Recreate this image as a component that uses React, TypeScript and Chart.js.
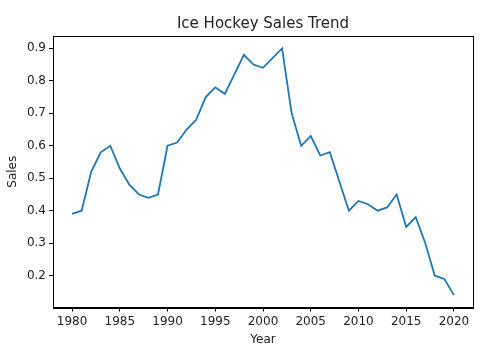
import React, { useEffect, useRef } from "react";
import { Chart, registerables } from "chart.js";

Chart.register(...registerables);

const years: number[] = [
  1980, 1981, 1982, 1983, 1984, 1985, 1986, 1987, 1988, 1989,
  1990, 1991, 1992, 1993, 1994, 1995, 1996, 1997, 1998, 1999,
  2000, 2001, 2002, 2003, 2004, 2005, 2006, 2007, 2008, 2009,
  2010, 2011, 2012, 2013, 2014, 2015, 2016, 2017, 2018, 2019, 2020,
];
const sales: number[] = [
  0.39, 0.40, 0.52, 0.58, 0.60, 0.53, 0.48, 0.45, 0.44, 0.45,
  0.60, 0.61, 0.65, 0.68, 0.75, 0.78, 0.76, 0.82, 0.88, 0.85,
  0.84, 0.87, 0.90, 0.70, 0.60, 0.63, 0.57, 0.58, 0.49, 0.40,
  0.43, 0.42, 0.40, 0.41, 0.45, 0.35, 0.38, 0.30, 0.20, 0.19, 0.14,
];
const xTicks: number[] = [1980, 1985, 1990, 1995, 2000, 2005, 2010, 2015, 2020];
const yTicks: number[] = [0.2, 0.3, 0.4, 0.5, 0.6, 0.7, 0.8, 0.9];
const titleText = "Ice Hockey Sales Trend";
const xLabel = "Year";
const yLabel = "Sales";

const FONT = "'DejaVu Sans', sans-serif";
const TEXT = "#222";

export default function App() {
  const ref = useRef<HTMLCanvasElement | null>(null);

  useEffect(() => {
    document.body.style.margin = "0";
    const canvas = ref.current;
    if (!canvas) return;

    const xMinD = Math.min(...years), xMaxD = Math.max(...years);
    const xm = (xMaxD - xMinD) * 0.05;
    const yMinD = Math.min(...sales), yMaxD = Math.max(...sales);
    const ym = (yMaxD - yMinD) * 0.05;

    const frame = {
      id: "frame",
      afterDatasetsDraw(chart: any) {
        const { ctx, chartArea: a } = chart;
        ctx.save();
        ctx.strokeStyle = "#000";
        ctx.lineWidth = 1;
        ctx.strokeRect(Math.round(a.left) + 0.5, Math.round(a.top) + 0.5, Math.round(a.right - a.left), Math.round(a.bottom - a.top));
        ctx.restore();
      },
    };

    const chart = new Chart(canvas, {
      type: "line",
      data: {
        datasets: [
          {
            data: years.map((y, i) => ({ x: y, y: sales[i] })),
            borderColor: "#1f77b4",
            backgroundColor: "#1f77b4",
            borderWidth: 1.8,
            pointRadius: 0,
            tension: 0,
            fill: false,
          },
        ],
      },
      options: {
        animation: false,
        responsive: false,
        maintainAspectRatio: false,
        layout: { padding: { left: 0, right: 29, top: 0, bottom: 0 } },
        plugins: {
          legend: { display: false },
          tooltip: { enabled: false },
          title: {
            display: true,
            fullSize: false,
            text: titleText,
            color: TEXT,
            font: { family: FONT, size: 15, weight: "normal" },
            padding: { top: 15, bottom: 3 },
          },
        },
        scales: {
          x: {
            type: "linear",
            min: xMinD - xm,
            max: xMaxD + xm,
            afterBuildTicks: (s: any) => {
              s.ticks = xTicks.map((v) => ({ value: v }));
            },
            afterFit: (s: any) => {
              s.height = 53.5;
            },
            ticks: {
              color: TEXT,
              font: { family: FONT, size: 12 },
              padding: 3,
              maxRotation: 0,
              autoSkip: false,
              callback: (v: any) => String(v),
            },
            grid: { display: true, drawOnChartArea: false, drawTicks: true, tickLength: 4, color: "#000" },
            border: { display: true, color: "#000", width: 1 },
            title: {
              display: true,
              text: xLabel,
              color: TEXT,
              font: { family: FONT, size: 12 },
              padding: { top: 0, bottom: 14 },
            },
          },
          y: {
            type: "linear",
            min: yMinD - ym,
            max: yMaxD + ym,
            afterBuildTicks: (s: any) => {
              s.ticks = yTicks.map((v) => ({ value: v }));
            },
            afterFit: (s: any) => {
              s.width = 53;
            },
            ticks: {
              color: TEXT,
              font: { family: FONT, size: 12 },
              padding: 3,
              autoSkip: false,
              callback: (v: any) => Number(v).toFixed(1),
            },
            grid: { display: true, drawOnChartArea: false, drawTicks: true, tickLength: 4, color: "#000" },
            border: { display: true, color: "#000", width: 1 },
            title: {
              display: true,
              text: yLabel,
              color: TEXT,
              font: { family: FONT, size: 12 },
              padding: { top: 6, bottom: 0 },
            },
          },
        },
      },
      plugins: [frame],
    } as any);

    return () => chart.destroy();
  }, []);

  return (
    <div style={{ width: 502, height: 361 }}>
      <canvas ref={ref} width={502} height={361} style={{ display: "block", width: 502, height: 361 }} />
    </div>
  );
}
